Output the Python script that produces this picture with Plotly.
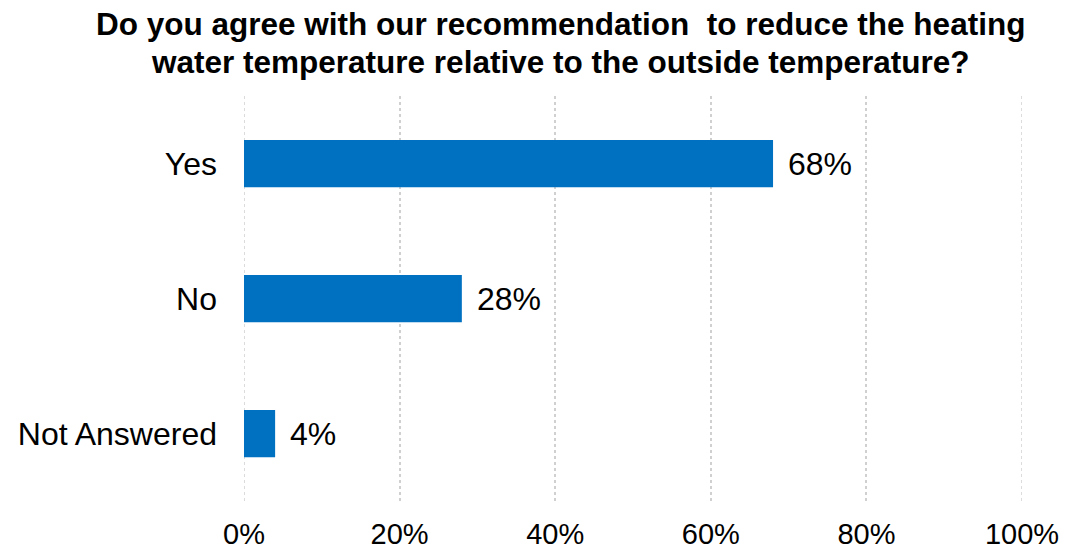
import plotly.graph_objects as go

categories = ["Yes", "No", "Not Answered"]
shares = [68, 28, 4]
tick_values = [0, 20, 40, 60, 80, 100]
tick_labels = ["0%", "20%", "40%", "60%", "80%", "100%"]
title_lines = [
    "Do you agree with our recommendation  to reduce the heating",
    "water temperature relative to the outside temperature?",
]

BAR_COLOR = "#0070C0"
GRID_COLOR = "#d0d0d0"
FONT = "Liberation Sans, Arial, sans-serif"

WIDTH, HEIGHT = 1066, 553
MARGIN_L, MARGIN_R = 244, 44
MARGIN_T, MARGIN_B = 96, 52
PLOT_W = WIDTH - MARGIN_L - MARGIN_R
PLOT_H = HEIGHT - MARGIN_T - MARGIN_B


def paper_x(px):
    """Convert a pixel column (from the left of the page) to paper x."""
    return (px - MARGIN_L) / PLOT_W


def paper_y(px):
    """Convert a pixel row (from the top of the page) to paper y."""
    return (HEIGHT - MARGIN_B - px) / PLOT_H


fig = go.Figure()
fig.add_trace(go.Bar(
    y=categories,
    x=shares,
    orientation="h",
    marker=dict(color=BAR_COLOR, line=dict(width=0)),
    width=0.35,
    hoverinfo="skip",
))

# value labels to the right of each bar
for cat, val in zip(categories, shares):
    fig.add_annotation(
        x=val, y=cat, text=f"{val}%", showarrow=False,
        xanchor="left", xshift=13,
        font=dict(family=FONT, size=32, color="#000000"),
    )

# two-line bold title, centred over the whole chart
for text, py in zip(title_lines, [24, 62]):
    fig.add_annotation(
        x=paper_x(560), xref="paper", xanchor="center",
        y=paper_y(py), yref="paper", yanchor="middle",
        text=f"<b>{text}</b>", showarrow=False,
        font=dict(family=FONT, size=31.5, color="#000000"),
    )

# gridlines at the range ends, which the axis itself leaves out
for xv in (tick_values[0], tick_values[-1]):
    fig.add_shape(
        type="line", xref="x", yref="paper", x0=xv, x1=xv, y0=0, y1=1,
        line=dict(color=GRID_COLOR, width=1.5, dash="dot"), layer="below",
    )

fig.update_layout(
    width=WIDTH, height=HEIGHT,
    paper_bgcolor="white", plot_bgcolor="white",
    margin=dict(l=MARGIN_L, r=MARGIN_R, t=MARGIN_T, b=MARGIN_B, autoexpand=False),
    showlegend=False,
    xaxis=dict(
        range=[0, 100], tickvals=tick_values, ticktext=tick_labels,
        showgrid=True, gridcolor=GRID_COLOR, gridwidth=1.5, griddash="dot",
        zeroline=False, showline=False, ticks="",
        ticklabelstandoff=13, automargin=False,
        tickfont=dict(family=FONT, size=29, color="#000000"),
        fixedrange=True,
    ),
    yaxis=dict(
        categoryorder="array", categoryarray=categories[::-1],
        showgrid=False, zeroline=False, showline=False, ticks="",
        ticklabelstandoff=26, automargin=False,
        tickfont=dict(family=FONT, size=32, color="#000000"),
        fixedrange=True,
    ),
)

fig.write_html("out.html")
